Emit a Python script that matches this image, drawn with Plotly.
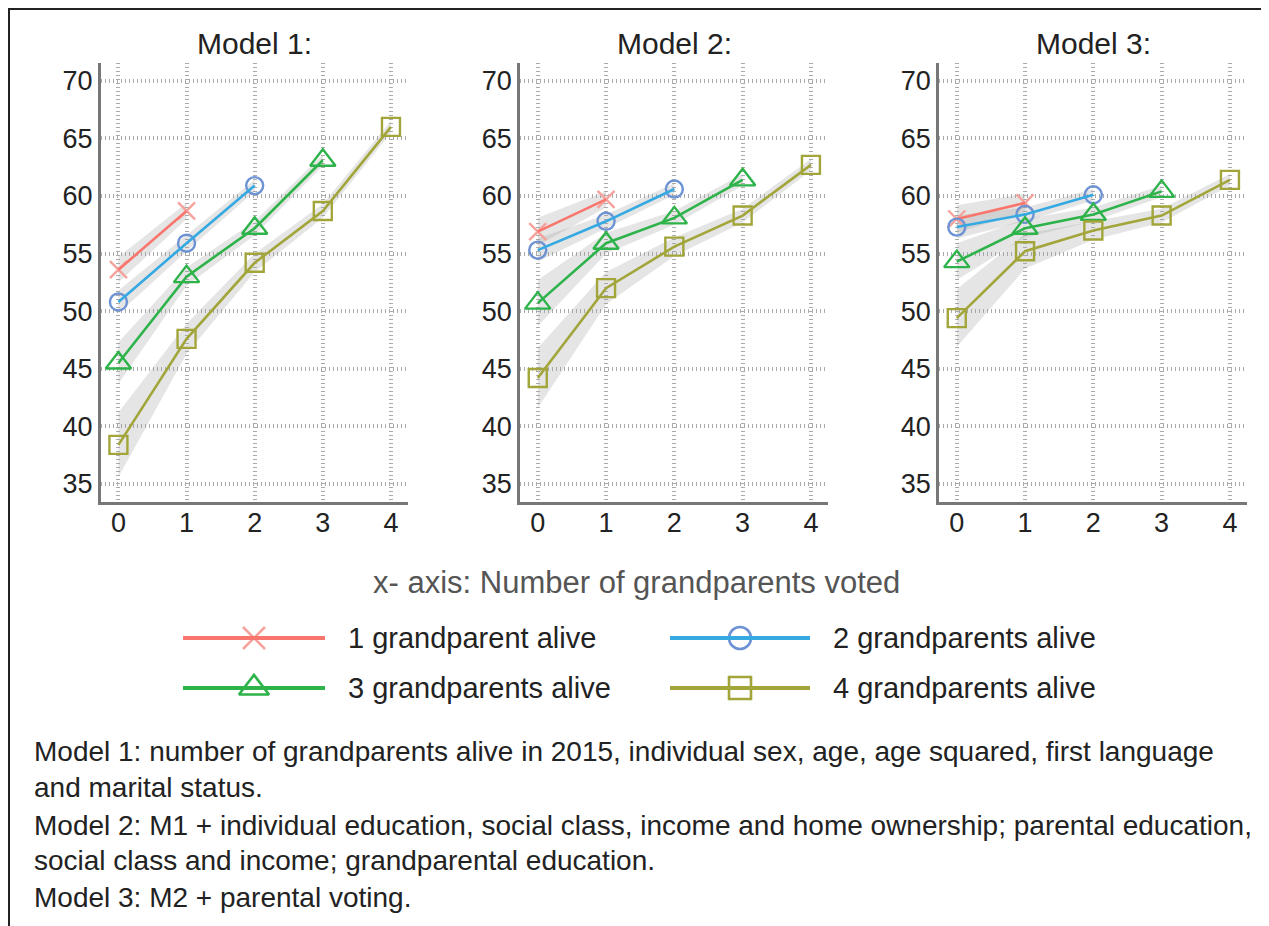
import plotly.graph_objects as go

# page body has an 8px margin; figure is sized so it fills the 1269x926 window
OFF = 8
W, H = 1269 - OFF, 926 - OFF

x_vals = [0, 1, 2, 3, 4]
x_ticks = [0, 1, 2, 3, 4]
y_ticks = [35, 40, 45, 50, 55, 60, 65, 70]

panel_titles = ["Model 1:", "Model 2:", "Model 3:"]
series_names = ["1 grandparent alive", "2 grandparents alive",
                "3 grandparents alive", "4 grandparents alive"]

# Model 1 predicted values and half-width of confidence band
m1_g1 = [53.6, 58.7]
m1_g1_ci = [1.1, 0.7]
m1_g2 = [50.8, 55.9, 60.9]
m1_g2_ci = [1.0, 0.7, 0.5]
m1_g3 = [45.5, 53.0, 57.2, 63.1]
m1_g3_ci = [1.8, 0.8, 0.6, 0.5]
m1_g4 = [38.4, 47.6, 54.2, 58.7, 66.0]
m1_g4_ci = [2.8, 1.3, 0.8, 0.6, 0.5]

# Model 2
m2_g1 = [56.9, 59.7]
m2_g1_ci = [1.2, 0.7]
m2_g2 = [55.3, 57.8, 60.6]
m2_g2_ci = [1.0, 0.6, 0.5]
m2_g3 = [50.7, 55.9, 58.1, 61.4]
m2_g3_ci = [2.0, 0.9, 0.6, 0.5]
m2_g4 = [44.2, 52.0, 55.6, 58.3, 62.7]
m2_g4_ci = [2.6, 1.4, 0.8, 0.6, 0.5]

# Model 3
m3_g1 = [58.0, 59.4]
m3_g1_ci = [1.2, 0.8]
m3_g2 = [57.3, 58.4, 60.1]
m3_g2_ci = [1.0, 0.6, 0.5]
m3_g3 = [54.3, 57.2, 58.4, 60.4]
m3_g3_ci = [1.6, 0.8, 0.6, 0.5]
m3_g4 = [49.4, 55.2, 57.0, 58.3, 61.4]
m3_g4_ci = [2.5, 1.5, 0.8, 0.6, 0.5]

x_axis_title = "x- axis: Number of grandparents voted"
caption_lines = [
    "Model 1: number of grandparents alive in 2015, individual sex, age, age squared, first language",
    "and marital status.",
    "Model 2: M1 + individual education, social class, income and home ownership; parental education,",
    "social class and income; grandparental education.",
    "Model 3: M2 + parental voting.",
]

# ---------------- styling ----------------
FONT = "Liberation Sans"
line_colors = ["#F8766D", "#35A9E1", "#2DB34A", "#A2A53A"]
marker_colors = ["#F6A29C", "#6E93D4", "#2DB34A", "#A2A53A"]
symbols = ["x-thin", "circle-open", "triangle-up-open", "square-open"]
marker_sizes = [17, 17, 22, 18]
legend_marker_sizes = [22, 22, 26, 22]
band_color = "rgba(160,160,160,0.27)"

models = [
    [(m1_g1, m1_g1_ci), (m1_g2, m1_g2_ci), (m1_g3, m1_g3_ci), (m1_g4, m1_g4_ci)],
    [(m2_g1, m2_g1_ci), (m2_g2, m2_g2_ci), (m2_g3, m2_g3_ci), (m2_g4, m2_g4_ci)],
    [(m3_g1, m3_g1_ci), (m3_g2, m3_g2_ci), (m3_g3, m3_g3_ci), (m3_g4, m3_g4_ci)],
]

def px(v):
    return v - OFF

# panel pixel extents in window coordinates (left, right)
panel_px = [(100.7, 408.0), (520.0, 828.0), (939.0, 1247.0)]
plot_top_px, plot_bot_px = 63.0, 502.0

fig = go.Figure()

for p, series in enumerate(models):
    ax = "" if p == 0 else str(p + 1)
    xref, yref = "x" + ax, "y" + ax
    for s, (vals, ci) in enumerate(series):
        xs = x_vals[:len(vals)]
        lo = [v - c for v, c in zip(vals, ci)]
        hi = [v + c for v, c in zip(vals, ci)]
        fig.add_trace(go.Scatter(
            x=xs + xs[::-1], y=hi + lo[::-1], fill="toself", mode="lines",
            line=dict(width=0), fillcolor=band_color, hoverinfo="skip",
            showlegend=False, xaxis=xref, yaxis=yref))
    for s, (vals, ci) in enumerate(series):
        xs = x_vals[:len(vals)]
        fig.add_trace(go.Scatter(
            x=xs, y=vals, mode="markers",
            marker=dict(symbol=symbols[s], size=marker_sizes[s], color=marker_colors[s],
                        line=dict(color=marker_colors[s], width=2.4)),
            showlegend=False, xaxis=xref, yaxis=yref, name=series_names[s]))
        fig.add_trace(go.Scatter(
            x=xs, y=vals, mode="lines", line=dict(color=line_colors[s], width=2.6),
            showlegend=False, xaxis=xref, yaxis=yref, name=series_names[s]))

axis_common = dict(
    showline=True, linecolor="#777777", linewidth=2.5, mirror=False,
    showgrid=True, gridcolor="#aaaaaa", gridwidth=3.5, griddash="1px,3px",
    zeroline=False, ticks="", tickfont=dict(family=FONT, size=27, color="#222222"),
)

layout = dict(
    width=W, height=H, margin=dict(l=0, r=0, t=0, b=0),
    paper_bgcolor="white", plot_bgcolor="rgba(0,0,0,0)",
    font=dict(family=FONT, color="#222222"), showlegend=False,
)
ydom = [1 - px(plot_bot_px) / H, 1 - px(plot_top_px) / H]
for p, (l, r) in enumerate(panel_px):
    ax = "" if p == 0 else str(p + 1)
    layout["xaxis" + ax] = dict(axis_common, domain=[px(l) / W, px(r) / W], range=[-0.26, 4.25],
                                tickvals=x_ticks, anchor="y" + ax, ticklabelstandoff=-5)
    layout["yaxis" + ax] = dict(axis_common, domain=ydom, range=[33.44, 71.54],
                                tickvals=y_ticks, anchor="x" + ax)

# overlay axis for legend keys (pixel coordinates of the figure)
layout["xaxis4"] = dict(domain=[0, 1], range=[0, W], visible=False, fixedrange=True, anchor="y4")
layout["yaxis4"] = dict(domain=[0, 1], range=[H, 0], visible=False, fixedrange=True, anchor="x4")

legend_cols = [(183, 325, 346), (670, 810, 831)]
legend_rows = [638, 688]
legend_pos = [(0, 0), (1, 0), (0, 1), (1, 1)]

annotations = []
for s, (c, r) in enumerate(legend_pos):
    x0, x1, tx = [px(v) for v in legend_cols[c]]
    yy = px(legend_rows[r])
    fig.add_trace(go.Scatter(x=[(x0 + x1) / 2], y=[yy], mode="markers",
                             marker=dict(symbol=symbols[s], size=legend_marker_sizes[s],
                                         color=marker_colors[s],
                                         line=dict(color=marker_colors[s], width=2.6)),
                             xaxis="x4", yaxis="y4", hoverinfo="skip", showlegend=False))
    fig.add_trace(go.Scatter(x=[x0, x1], y=[yy, yy], mode="lines",
                             line=dict(color=line_colors[s], width=4),
                             xaxis="x4", yaxis="y4", hoverinfo="skip", showlegend=False))
    annotations.append(dict(text=series_names[s], x=tx / W, y=1 - yy / H, xref="paper", yref="paper",
                            xanchor="left", yanchor="middle", showarrow=False,
                            font=dict(family=FONT, size=29, color="#222222")))

for p, (l, r) in enumerate(panel_px):
    annotations.append(dict(text=panel_titles[p], x=px((l + r) / 2) / W, y=1 - px(43) / H,
                            xref="paper", yref="paper", xanchor="center", yanchor="middle",
                            showarrow=False, font=dict(family=FONT, size=30, color="#222222")))

annotations.append(dict(text=x_axis_title, x=px(636) / W, y=1 - px(582) / H, xref="paper", yref="paper",
                        xanchor="center", yanchor="middle", showarrow=False,
                        font=dict(family=FONT, size=31, color="#555555")))

caption_y = [751, 787, 825, 860, 897]
for t, yy in zip(caption_lines, caption_y):
    annotations.append(dict(text=t, x=px(32) / W, y=1 - px(yy) / H, xref="paper", yref="paper",
                            xanchor="left", yanchor="middle", showarrow=False,
                            font=dict(family=FONT, size=28, color="#222222")))

shapes = [
    dict(type="line", xref="paper", yref="paper", x0=0, x1=1, y0=1 - 1 / H, y1=1 - 1 / H,
         line=dict(color="#222222", width=2)),
    dict(type="line", xref="paper", yref="paper", x0=1 / W, x1=1 / W, y0=0, y1=1 - 1 / H,
         line=dict(color="#222222", width=2)),
]

layout["annotations"] = annotations
layout["shapes"] = shapes
fig.update_layout(**layout)

fig.write_html("out.html")
